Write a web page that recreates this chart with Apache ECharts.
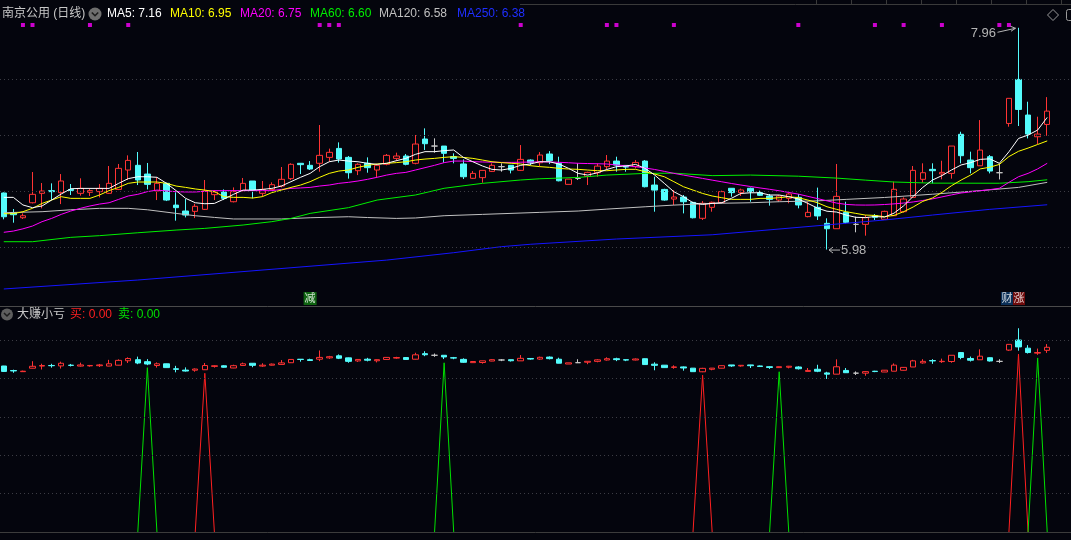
<!DOCTYPE html>
<html><head><meta charset="utf-8">
<script src="https://cdn.jsdelivr.net/npm/echarts@6/dist/echarts.min.js"></script>
<style>html,body{margin:0;padding:0;background:#04050d;}#c{width:1071px;height:540px;}</style>
</head><body><div id="c"></div>
<script>
// ---------- DATA ----------
const opens = [6.485,6.309,6.264,6.398,6.482,6.506,6.488,6.517,6.482,6.491,
 6.497,6.482,6.517,6.690,6.732,6.654,6.503,6.571,6.377,6.324,
 6.321,6.339,6.470,6.494,6.407,6.506,6.592,6.482,6.517,6.547,
 6.613,6.750,6.732,6.750,6.803,6.883,6.803,6.684,6.750,6.690,
 6.741,6.794,6.815,6.750,6.967,6.904,6.904,6.809,6.744,6.616,
 6.622,6.678,6.720,6.732,6.687,6.779,6.755,6.833,6.749,6.562,
 6.615,6.633,6.666,6.720,6.770,6.731,6.720,6.770,6.556,6.517,
 6.431,6.449,6.401,6.259,6.357,6.399,6.527,6.488,6.527,6.488,
 6.458,6.422,6.437,6.446,6.274,6.357,6.214,6.166,6.312,6.205,
 6.205,6.282,6.250,6.282,6.318,6.446,6.607,6.696,6.655,6.660,
 7.009,6.779,6.728,6.809,6.666,7.106,7.499,7.181,6.987,7.097];
const closes = [6.273,6.291,6.282,6.473,6.503,6.497,6.592,6.508,6.526,6.506,
 6.526,6.571,6.705,6.776,6.601,6.562,6.571,6.422,6.354,6.288,
 6.366,6.503,6.494,6.437,6.497,6.571,6.511,6.517,6.559,6.607,
 6.741,6.738,6.699,6.821,6.848,6.788,6.666,6.741,6.711,6.732,
 6.821,6.815,6.741,6.922,6.925,6.904,6.839,6.794,6.630,6.660,
 6.687,6.732,6.720,6.690,6.785,6.756,6.824,6.773,6.594,6.609,
 6.615,6.669,6.725,6.770,6.734,6.716,6.758,6.541,6.511,6.422,
 6.449,6.407,6.264,6.393,6.402,6.497,6.488,6.512,6.497,6.464,
 6.428,6.458,6.476,6.378,6.312,6.280,6.166,6.455,6.223,6.205,
 6.265,6.268,6.321,6.518,6.431,6.687,6.666,6.684,6.669,6.904,
 6.818,6.711,6.868,6.681,6.666,7.330,7.231,7.011,7.011,7.216];
const lows = [6.250,6.220,6.253,6.392,6.348,6.422,6.386,6.467,6.461,6.458,
 6.446,6.476,6.511,6.601,6.556,6.517,6.422,6.413,6.238,6.267,
 6.261,6.333,6.422,6.422,6.401,6.500,6.437,6.452,6.506,6.535,
 6.601,6.654,6.690,6.675,6.765,6.756,6.613,6.645,6.666,6.625,
 6.732,6.770,6.732,6.741,6.869,6.845,6.756,6.750,6.610,6.610,
 6.577,6.672,6.675,6.660,6.681,6.732,6.725,6.743,6.589,6.562,
 6.601,6.556,6.630,6.699,6.675,6.675,6.705,6.535,6.318,6.416,
 6.377,6.303,6.258,6.244,6.318,6.393,6.452,6.458,6.407,6.458,
 6.372,6.407,6.393,6.348,6.268,6.244,5.980,6.166,6.214,6.134,
 6.104,6.244,6.250,6.282,6.309,6.446,6.577,6.571,6.607,6.613,
 6.750,6.660,6.728,6.660,6.606,7.077,7.083,6.972,6.922,6.996];
const highs = [6.490,6.342,6.303,6.672,6.574,6.571,6.654,6.565,6.616,6.526,
 6.565,6.726,6.744,6.821,6.851,6.753,6.625,6.577,6.491,6.431,
 6.389,6.601,6.511,6.517,6.535,6.619,6.592,6.592,6.580,6.717,
 6.750,6.753,6.770,7.092,6.881,6.937,6.815,6.750,6.803,6.741,
 6.833,6.845,6.833,7.003,7.062,6.973,6.904,6.839,6.785,6.681,
 6.687,6.750,6.750,6.732,6.913,6.785,6.850,6.859,6.809,6.609,
 6.750,6.675,6.749,6.824,6.809,6.731,6.779,6.779,6.630,6.523,
 6.511,6.467,6.407,6.413,6.408,6.506,6.527,6.524,6.533,6.506,
 6.476,6.467,6.488,6.476,6.407,6.533,6.259,6.744,6.407,6.274,
 6.289,6.297,6.327,6.586,6.446,6.726,6.750,6.750,6.773,6.904,
 7.032,6.854,7.136,6.824,6.749,7.330,7.960,7.300,7.166,7.341];

const ma5 = [6.446,6.446,6.378,6.354,6.369,6.422,6.476,6.523,6.526,6.526,
 6.526,6.526,6.571,6.613,6.630,6.630,6.625,6.571,6.506,6.437,
 6.398,6.389,6.392,6.431,6.473,6.511,6.511,6.517,6.526,6.547,
 6.586,6.625,6.660,6.720,6.764,6.779,6.770,6.764,6.750,6.741,
 6.750,6.773,6.794,6.830,6.854,6.854,6.863,6.869,6.803,6.764,
 6.726,6.696,6.690,6.705,6.732,6.744,6.764,6.764,6.743,6.705,
 6.660,6.645,6.665,6.695,6.720,6.726,6.740,6.705,6.645,6.571,
 6.496,6.452,6.398,6.383,6.392,6.398,6.437,6.481,6.487,6.487,
 6.467,6.467,6.452,6.431,6.392,6.350,6.322,6.315,6.288,6.268,
 6.265,6.275,6.270,6.305,6.370,6.455,6.535,6.600,6.640,6.690,
 6.735,6.756,6.785,6.790,6.750,6.853,6.972,7.002,7.047,7.160];
const ma10 = [6.300,6.300,6.318,6.348,6.392,6.422,6.452,6.437,6.437,6.437,
 6.467,6.506,6.535,6.571,6.583,6.583,6.583,6.571,6.547,6.535,
 6.521,6.511,6.497,6.452,6.446,6.446,6.440,6.452,6.488,6.511,
 6.535,6.556,6.586,6.625,6.660,6.681,6.690,6.714,6.732,6.744,
 6.750,6.756,6.764,6.779,6.788,6.794,6.803,6.809,6.803,6.794,
 6.779,6.764,6.756,6.750,6.744,6.729,6.720,6.714,6.705,6.699,
 6.696,6.690,6.684,6.684,6.690,6.696,6.696,6.675,6.654,6.630,
 6.586,6.541,6.511,6.481,6.458,6.443,6.428,6.428,6.428,6.437,
 6.437,6.443,6.452,6.443,6.422,6.398,6.362,6.339,6.318,6.303,
 6.288,6.285,6.273,6.285,6.318,6.360,6.410,6.440,6.490,6.550,
 6.600,6.645,6.700,6.715,6.740,6.810,6.857,6.886,6.918,6.950];
const ma20 = [6.134,6.145,6.165,6.190,6.229,6.258,6.294,6.324,6.348,6.369,
 6.386,6.398,6.428,6.458,6.473,6.497,6.511,6.503,6.497,6.494,
 6.494,6.500,6.506,6.506,6.506,6.506,6.506,6.506,6.506,6.517,
 6.526,6.530,6.535,6.547,6.556,6.571,6.580,6.592,6.607,6.625,
 6.645,6.660,6.669,6.690,6.711,6.732,6.756,6.770,6.770,6.765,
 6.762,6.760,6.758,6.758,6.760,6.761,6.764,6.762,6.759,6.755,
 6.750,6.748,6.746,6.744,6.735,6.728,6.720,6.708,6.695,6.678,
 6.660,6.645,6.630,6.615,6.600,6.585,6.570,6.556,6.543,6.530,
 6.518,6.505,6.490,6.475,6.455,6.435,6.415,6.395,6.383,6.378,
 6.377,6.378,6.382,6.388,6.395,6.405,6.418,6.432,6.450,6.468,
 6.485,6.495,6.505,6.515,6.527,6.580,6.630,6.660,6.700,6.750];
const ma60Pts = [[0,6.050],[3,6.050],[7,6.089],[10,6.104],[14,6.130],[18,6.154],[21,6.169],[25,6.199],
 [28,6.229],[30,6.258],[32,6.303],[36,6.354],[39,6.422],[43,6.467],[46,6.527],[50,6.571],[54,6.601],
 [56,6.612],[60,6.624],[63,6.645],[67,6.660],[70,6.662],[74,6.640],[78,6.645],[83,6.635],[87,6.618],
 [90,6.600],[93,6.583],[97,6.573],[104,6.572],[107,6.586],[109,6.603]];
const ma120Pts = [[0,6.309],[4,6.318],[7,6.335],[10,6.348],[13,6.348],[15,6.335],[18,6.303],[20,6.282],
 [22,6.267],[24,6.253],[29,6.253],[32,6.264],[36,6.273],[38,6.266],[41,6.258],[43,6.262],[46,6.282],
 [50,6.294],[56,6.312],[60,6.324],[63,6.341],[67,6.362],[70,6.377],[74,6.392],[78,6.398],[81,6.407],
 [85,6.415],[88,6.428],[92,6.445],[97,6.474],[102,6.506],[106,6.535],[109,6.580]];
const ma250Pts = [[0,5.628],[14,5.708],[40,5.886],[47,5.952],[52,6.006],[55,6.027],[64,6.074],[74,6.112],
 [86,6.200],[92,6.244],[97,6.288],[103,6.339],[109,6.380]];

const maNames = ['MA5','MA10','MA20','MA60','MA120','MA250'];
const maLast = [7.16, 6.95, 6.75, 6.60, 6.58, 6.38];

const signalDotIdx = [2,3,9,13,33,34,35,54,63,64,70,83,91,94,98,104,105];
const signalDotLevel = 7.985;

const buyIdx = [21, 73, 106];
const buyVal = [6.20, 6.13, 6.95];
const sellIdx = [15, 46, 81, 108];
const sellVal = [6.42, 6.61, 6.26, 6.80];
const buyLast = 0.00, sellLast = 0.00;

const mainLevels = [6.0, 6.5, 7.0, 7.5];
const subLevels = [1.5, 3.0, 4.5, 6.0, 7.5];

const eventMarks = [{idx:32, text:'减', color:'#127a12', off:0, w:13},
                    {idx:105, text:'财', color:'#0c3a6a', off:-2, w:12},
                    {idx:106, text:'涨', color:'#8a0c0c', off:0.5, w:12}];
const eventLevel = 5.543;

// ---------- CHART ----------
const BG = '#04050d', UP = '#ff3434', DOWN = '#54fcfc', DOJI = '#c8c8c8';
const FONT = "'Liberation Sans','Noto Sans CJK SC',sans-serif";
const N = opens.length;
const cats = opens.map((_, i) => i);
const ohlc = opens.map((o, i) => [o, closes[i], lows[i], highs[i]]);
function spikeSeries(idx, vals) {
  const a = new Array(N).fill(null);
  idx.forEach((k, j) => { if (k - 1 >= 0) a[k - 1] = 0; a[k] = vals[j]; if (k + 1 < N) a[k + 1] = 0; });
  return a;
}
const chart = echarts.init(document.getElementById('c'), null, {renderer: 'canvas'});
const candleStyle = {color: BG, color0: DOWN, borderColor: UP, borderColor0: DOWN, borderColorDoji: DOJI, borderWidth: 1};
const PMIN = 5.485, PMAX = 8.208, SMAX = 8.2;
function maLine(data, color, z) {
  return {type: 'line', xAxisIndex: 0, yAxisIndex: 0, data: data, symbol: 'none', silent: true, z: z,
    lineStyle: {color: color, width: 1}, connectNulls: true};
}
chart.setOption({
  animation: false,
  backgroundColor: BG,
  grid: [
    {left: -1, top: 0, width: 1053, height: 305, containLabel: false, outerBoundsMode: 'none'},
    {left: -1, top: 322.1, width: 1053, height: 209.9, containLabel: false, outerBoundsMode: 'none'},
    {left: 0, top: 0, width: 1071, height: 305, containLabel: false, outerBoundsMode: 'none'},
    {left: 0, top: 322.1, width: 1071, height: 209.9, containLabel: false, outerBoundsMode: 'none'}
  ],
  xAxis: [
    {type: 'category', gridIndex: 0, data: cats, show: false, boundaryGap: true},
    {type: 'category', gridIndex: 1, data: cats, show: false, boundaryGap: true},
    {type: 'value', gridIndex: 2, min: 0, max: 1, show: false},
    {type: 'value', gridIndex: 3, min: 0, max: 1, show: false}
  ],
  yAxis: [
    {type: 'value', gridIndex: 0, min: PMIN, max: PMAX, show: false},
    {type: 'value', gridIndex: 1, min: 0, max: SMAX, show: false},
    {type: 'value', gridIndex: 2, min: PMIN, max: PMAX, show: false},
    {type: 'value', gridIndex: 3, min: 0, max: SMAX, show: false}
  ],
  series: [
    {type: 'line', xAxisIndex: 2, yAxisIndex: 2, data: [], silent: true, z: 1,
      markLine: {silent: true, symbol: ['none', 'none'], label: {show: false}, animation: false,
        lineStyle: {color: '#3c3c44', type: [1, 3], width: 1}, emphasis: {disabled: true},
        data: mainLevels.map(v => ({yAxis: v}))}},
    {type: 'line', xAxisIndex: 3, yAxisIndex: 3, data: [], silent: true, z: 1,
      markLine: {silent: true, symbol: ['none', 'none'], label: {show: false}, animation: false,
        lineStyle: {color: '#3c3c44', type: [1, 3], width: 1}, emphasis: {disabled: true},
        data: subLevels.map(v => ({yAxis: v}))}},
    {type: 'line', xAxisIndex: 3, yAxisIndex: 3, data: [], silent: true, z: 1,
      markLine: {silent: true, symbol: ['none', 'none'], label: {show: false}, animation: false,
        lineStyle: {color: '#3c3c3c', type: 'solid', width: 1}, emphasis: {disabled: true},
        data: [{yAxis: 0}]}},
    {type: 'candlestick', xAxisIndex: 0, yAxisIndex: 0, data: ohlc, barWidth: 6, z: 2,
      itemStyle: candleStyle, emphasis: {disabled: true}, silent: true},
    maLine(ma250Pts, '#1414ff', 3),
    maLine(ma120Pts, '#c0c0c0', 3),
    maLine(ma60Pts, '#00f000', 3),
    maLine(ma20, '#ff00ff', 4),
    maLine(ma10, '#ffff00', 4),
    maLine(ma5, '#ffffff', 5),
    {type: 'scatter', xAxisIndex: 0, yAxisIndex: 0, silent: true, z: 6,
      data: signalDotIdx.map(i => [i, signalDotLevel]), symbol: 'rect', symbolSize: 4,
      itemStyle: {color: '#ff00ff'}},
    ...eventMarks.map(m => ({type: 'scatter', xAxisIndex: 0, yAxisIndex: 0, silent: true, z: 6,
      data: [[m.idx, eventLevel]], symbol: 'rect', symbolSize: [m.w, 13], symbolOffset: [m.off, 0],
      itemStyle: {color: m.color},
      label: {show: true, position: 'inside', formatter: m.text, color: '#ffffff', fontSize: 11, fontFamily: FONT}})),
    {type: 'candlestick', xAxisIndex: 1, yAxisIndex: 1, data: ohlc, barWidth: 6, z: 2,
      itemStyle: candleStyle, emphasis: {disabled: true}, silent: true},
    {type: 'line', xAxisIndex: 1, yAxisIndex: 1, data: spikeSeries(buyIdx, buyVal), symbol: 'none',
      silent: true, clip: false, z: 3, lineStyle: {color: '#ff2020', width: 1}},
    {type: 'line', xAxisIndex: 1, yAxisIndex: 1, data: spikeSeries(sellIdx, sellVal), symbol: 'none',
      silent: true, clip: false, z: 3, lineStyle: {color: '#00e000', width: 1}}
  ]
});

// ---------- overlay texts / annotations ----------
const maColors = ['#ffffff', '#ffff00', '#ff00ff', '#00f000', '#c0c0c0', '#1f2fff'];
const maTextX = [107, 170, 240, 310, 379, 457];
const g = [];
function txt(x, y, s, fill, size, align) {
  g.push({type: 'text', x: x, y: y, silent: true, z: 100,
    style: {text: s, fill: fill, font: (size || 12) + 'px ' + FONT, textAlign: align || 'left', textVerticalAlign: 'middle', align: align || 'left', verticalAlign: 'middle'}});
}
function line(pts, stroke) {
  g.push({type: 'polyline', silent: true, z: 100, shape: {points: pts}, style: {stroke: stroke, fill: null, lineWidth: 1}});
}
// top border & separators
line([[520, 4.5], [1071, 4.5]], '#3a3a3a');
[816, 851, 886, 921, 956, 991, 1026, 1061].forEach(x => line([[x + 0.5, 0], [x + 0.5, 4.5]], '#3a3a3a'));
line([[0, 306.5], [1071, 306.5]], '#4a4a4a');
// title
txt(2, 14, '南京公用 (日线)', '#c8c8c8', 12);
g.push({type: 'circle', silent: true, z: 100, shape: {cx: 95, cy: 14, r: 6.5}, style: {fill: '#6e6e6e'}});
g.push({type: 'polyline', silent: true, z: 101, shape: {points: [[91.8, 12.5], [95, 15.7], [98.2, 12.5]]}, style: {stroke: '#1c1c1c', lineWidth: 1.6, fill: null}});
maNames.forEach((n, i) => txt(maTextX[i], 14, n + ': ' + maLast[i].toFixed(2), maColors[i], 12));
// top right icons
g.push({type: 'polygon', silent: true, z: 100, shape: {points: [[1053, 9.5], [1058.5, 15], [1053, 20.5], [1047.5, 15]]}, style: {stroke: '#9a9a9a', fill: null, lineWidth: 1}});
g.push({type: 'rect', silent: true, z: 100, shape: {x: 1066.5, y: 9.5, width: 10, height: 11, r: 2}, style: {stroke: '#9a9a9a', fill: null, lineWidth: 1}});
// sub title
g.push({type: 'circle', silent: true, z: 100, shape: {cx: 7, cy: 314.5, r: 6}, style: {fill: '#5e5e5e'}});
g.push({type: 'polyline', silent: true, z: 101, shape: {points: [[4, 313], [7, 316], [10, 313]]}, style: {stroke: '#1c1c1c', lineWidth: 1.5, fill: null}});
txt(17, 314.5, '大赚小亏', '#c8c8c8', 12);
txt(70, 314.5, '买: ' + buyLast.toFixed(2), '#ff2020', 12);
txt(118, 314.5, '卖: ' + sellLast.toFixed(2), '#00e000', 12);
// high / low annotations
const hiIdx = highs.indexOf(Math.max(...highs));
const loIdx = lows.indexOf(Math.min(...lows));
const hp = chart.convertToPixel({xAxisIndex: 0, yAxisIndex: 0}, [hiIdx, highs[hiIdx]]);
const lp = chart.convertToPixel({xAxisIndex: 0, yAxisIndex: 0}, [loIdx, lows[loIdx]]);
const annColor = '#b4b4b4';
txt(hp[0] - 22.5, hp[1] + 6, highs[hiIdx].toFixed(2), annColor, 13, 'right');
line([[hp[0] - 21, hp[1] + 4.5], [hp[0] - 3, hp[1] + 0.5]], annColor);
line([[hp[0] - 8, hp[1] - 1.5], [hp[0] - 3, hp[1] + 0.5], [hp[0] - 7.5, hp[1] + 3.5]], annColor);
line([[lp[0] + 13, lp[1] + 0.5], [lp[0] + 2, lp[1] + 0.5]], annColor);
line([[lp[0] + 6, lp[1] - 2.5], [lp[0] + 2, lp[1] + 0.5], [lp[0] + 6, lp[1] + 3.5]], annColor);
txt(lp[0] + 14, lp[1] + 1, lows[loIdx].toFixed(2), annColor, 13, 'left');
chart.setOption({graphic: g});
</script>
</body></html>
